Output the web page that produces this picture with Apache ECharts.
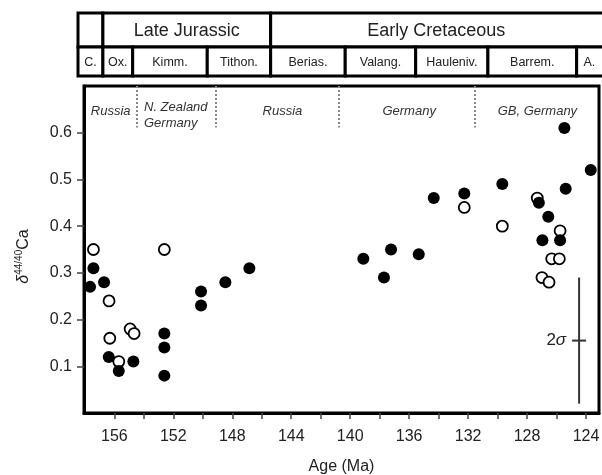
<!DOCTYPE html>
<html><head><meta charset="utf-8">
<script src="https://cdn.jsdelivr.net/npm/echarts@6/dist/echarts.min.js"></script>
<style>html,body{margin:0;padding:0;background:#fff}#c{width:602px;height:475px}</style>
</head><body><div id="c"></div>
<script>
// ---- data ----
const filledAge = [157.42,157.65,156.70,156.38,155.70,154.71,152.61,152.61,152.61,150.12,150.12,148.47,146.84,139.11,137.71,137.23,135.35,134.33,132.26,129.68,127.20,126.56,126.96,125.76,125.47,125.38,123.68];
const filledD   = [0.31,  0.27,  0.28,  0.12,  0.09,  0.11,  0.17,  0.14,  0.08,  0.26,  0.23,  0.28,  0.31,  0.33,  0.29,  0.35,  0.34,  0.46,  0.47,  0.49,  0.45,  0.42,  0.37,  0.37,  0.61,  0.48,  0.52];
const openAge = [157.42,156.36,156.31,155.70,154.93,154.66,152.61,132.26,129.68,127.31,125.76,126.33,125.81,126.99,126.51];
const openD   = [0.35,  0.24,  0.16,  0.11,  0.18,  0.17,  0.35,  0.44,  0.40,  0.46,  0.39,  0.33,  0.33,  0.29,  0.28];

const epochNames  = ['', 'Late Jurassic', 'Early Cretaceous'];
const epochBounds = [158.46, 156.77, 145.39, 121.0];
const stageNames  = ['C.', 'Ox.', 'Kimm.', 'Tithon.', 'Berias.', 'Valang.', 'Hauleniv.', 'Barrem.', 'A.'];
const stageBounds = [158.46, 156.77, 154.75, 149.69, 145.39, 140.33, 135.55, 130.65, 124.63, 121.0];

const regionDividers = [154.48, 149.12, 140.80, 131.53];
const regionDividerTop = 0.70, regionDividerBottom = 0.611;
const regionLabels = ['Russia', 'N. Zealand\nGermany', 'Russia', 'Germany', 'GB, Germany'];
const regionLabelAge = [156.25, 153.99, 144.6, 136.0, 127.3];
const regionLabelD = [0.6455, 0.6375, 0.6455, 0.6455, 0.6455];

const sigmaBar = {age: 124.47, center: 0.155, half: 0.135};

const xTicks = [124,126,128,130,132,134,136,138,140,142,144,146,148,150,152,154,156];
const xLabels = [124,128,132,136,140,144,148,152,156];
const yTicks = [0.1,0.2,0.3,0.4,0.5,0.6];

// ---- chart ----
const FONT = "'Liberation Sans', Arial, Helvetica, sans-serif";
const chart = echarts.init(document.getElementById('c'));

const headerData = [];
for (let i = 0; i < epochNames.length; i++) headerData.push([epochBounds[i], epochBounds[i+1], 0, i]);
for (let i = 0; i < stageNames.length; i++) headerData.push([stageBounds[i], stageBounds[i+1], 1, i]);

function renderHeader(params, api) {
  const cs = params.coordSys;
  const xa = api.coord([api.value(0), 0])[0];
  const xb = api.coord([api.value(1), 0])[0];
  const x0 = Math.min(xa, xb), x1 = Math.max(xa, xb);
  const row = api.value(2), idx = api.value(3);
  const split = cs.y + 34;
  const y0 = row === 0 ? cs.y : split;
  const y1 = row === 0 ? split : cs.y + cs.height;
  const visR = Math.min(x1, cs.x + cs.width);
  const label = row === 0 ? epochNames[idx] : stageNames[idx];
  return {type: 'group', children: [
    {type: 'rect', shape: {x: x0, y: y0, width: x1 - x0, height: y1 - y0},
     style: {fill: '#fff', stroke: '#000', lineWidth: 3}},
    {type: 'text', style: {text: label, x: (x0 + visR) / 2, y: (y0 + y1) / 2 + 1,
      align: 'center', verticalAlign: 'middle',
      font: (row === 0 ? '18px ' : '12.5px ') + FONT, fill: '#222'}}
  ]};
}

function renderRegionLabel(params, api) {
  const p = api.coord([api.value(0), api.value(1)]);
  const idx = api.value(2);
  const multi = regionLabels[idx].indexOf('\n') >= 0;
  return {type: 'text', style: {text: regionLabels[idx], x: p[0], y: p[1],
    align: multi ? 'left' : 'center', verticalAlign: 'middle', lineHeight: 16,
    font: 'italic 13px ' + FONT, fill: '#333'}};
}

function renderSigma(params, api) {
  const x = api.value(0), c = api.value(1), h = api.value(2);
  const top = api.coord([x, c + h]);
  const bot = api.coord([x, c - h]);
  const mid = api.coord([x, c]);
  const ls = {stroke: '#333', lineWidth: 2};
  return {type: 'group', children: [
    {type: 'line', shape: {x1: top[0], y1: top[1], x2: bot[0], y2: bot[1]}, style: ls},
    {type: 'line', shape: {x1: mid[0] - 7, y1: mid[1], x2: mid[0] + 7, y2: mid[1]}, style: ls},
    {type: 'text', style: {text: '{n|2}{g|σ}', x: mid[0] - 13, y: mid[1], align: 'right', verticalAlign: 'middle',
      rich: {n: {fontSize: 17, fontFamily: FONT, fill: '#222'}, g: {fontSize: 17, fontFamily: FONT, fontStyle: 'italic', fill: '#222'}}}}
  ]};
}

const dividerLines = regionDividers.map(a => [{coord: [a, regionDividerTop]}, {coord: [a, regionDividerBottom]}]);

chart.setOption({
  animation: false,
  backgroundColor: '#fff',
  grid: [
    {left: 84, top: 86, width: 515, height: 327, show: true, borderColor: '#000', borderWidth: 3,
     backgroundColor: 'transparent', containLabel: false, outerBoundsMode: 'none'},
    {left: 78, top: 13, width: 524, height: 63, show: false, containLabel: false, outerBoundsMode: 'none'}
  ],
  xAxis: [
    {type: 'value', gridIndex: 0, inverse: true, min: 123.12, max: 158.06,
     name: 'Age (Ma)', nameLocation: 'middle', nameGap: 46,
     nameTextStyle: {fontFamily: FONT, fontSize: 16, color: '#222'},
     axisLine: {show: true, lineStyle: {color: '#000', width: 3}},
     axisTick: {show: true, length: 6, lineStyle: {color: '#444', width: 1.5}, customValues: xTicks},
     axisLabel: {fontFamily: FONT, fontSize: 16, color: '#222', margin: 16, customValues: xLabels},
     splitLine: {show: false}},
    {type: 'value', gridIndex: 1, inverse: true, min: 122.91, max: 158.46, show: false}
  ],
  yAxis: [
    {type: 'value', gridIndex: 0, min: 0, max: 0.7,
     name: '{d|δ}{s|44/40}{c|Ca}', nameLocation: 'middle', nameGap: 50, nameRotate: 90,
     nameTextStyle: {padding: [0, 14, 0, 0], rich: {
       d: {fontFamily: FONT, fontSize: 16, fontStyle: 'italic', color: '#222', lineHeight: 20},
       s: {fontFamily: FONT, fontSize: 10, color: '#222', verticalAlign: 'top', lineHeight: 12},
       c: {fontFamily: FONT, fontSize: 16, color: '#222', lineHeight: 20}}},
     axisLine: {show: true, lineStyle: {color: '#000', width: 3}},
     axisTick: {show: true, length: 7, lineStyle: {color: '#444', width: 1.5}, customValues: yTicks},
     axisLabel: {fontFamily: FONT, fontSize: 16, color: '#222', margin: 12, customValues: yTicks,
       formatter: v => v.toFixed(1)},
     splitLine: {show: false}},
    {type: 'value', gridIndex: 1, min: 0, max: 2, show: false}
  ],
  series: [
    {type: 'custom', xAxisIndex: 1, yAxisIndex: 1, renderItem: renderHeader, data: headerData, silent: true, clip: false},
    {type: 'line', xAxisIndex: 0, yAxisIndex: 0, data: [], silent: true,
     markLine: {silent: true, symbol: 'none', label: {show: false},
       lineStyle: {color: '#888', type: [2, 2], width: 2}, data: dividerLines}},
    {type: 'custom', renderItem: renderRegionLabel, silent: true,
     data: regionLabels.map((l, i) => [regionLabelAge[i], regionLabelD[i], i])},
    {type: 'custom', renderItem: renderSigma, silent: true,
     data: [[sigmaBar.age, sigmaBar.center, sigmaBar.half]]},
    {type: 'scatter', name: 'open', symbol: 'circle', symbolSize: 11,
     itemStyle: {color: '#fff', borderColor: '#000', borderWidth: 1.8, opacity: 1},
     data: openAge.map((a, i) => [a, openD[i]])},
    {type: 'scatter', name: 'filled', symbol: 'circle', symbolSize: 12,
     itemStyle: {color: '#000', opacity: 1},
     data: filledAge.map((a, i) => [a, filledD[i]])}
  ]
});
</script>
</body></html>
